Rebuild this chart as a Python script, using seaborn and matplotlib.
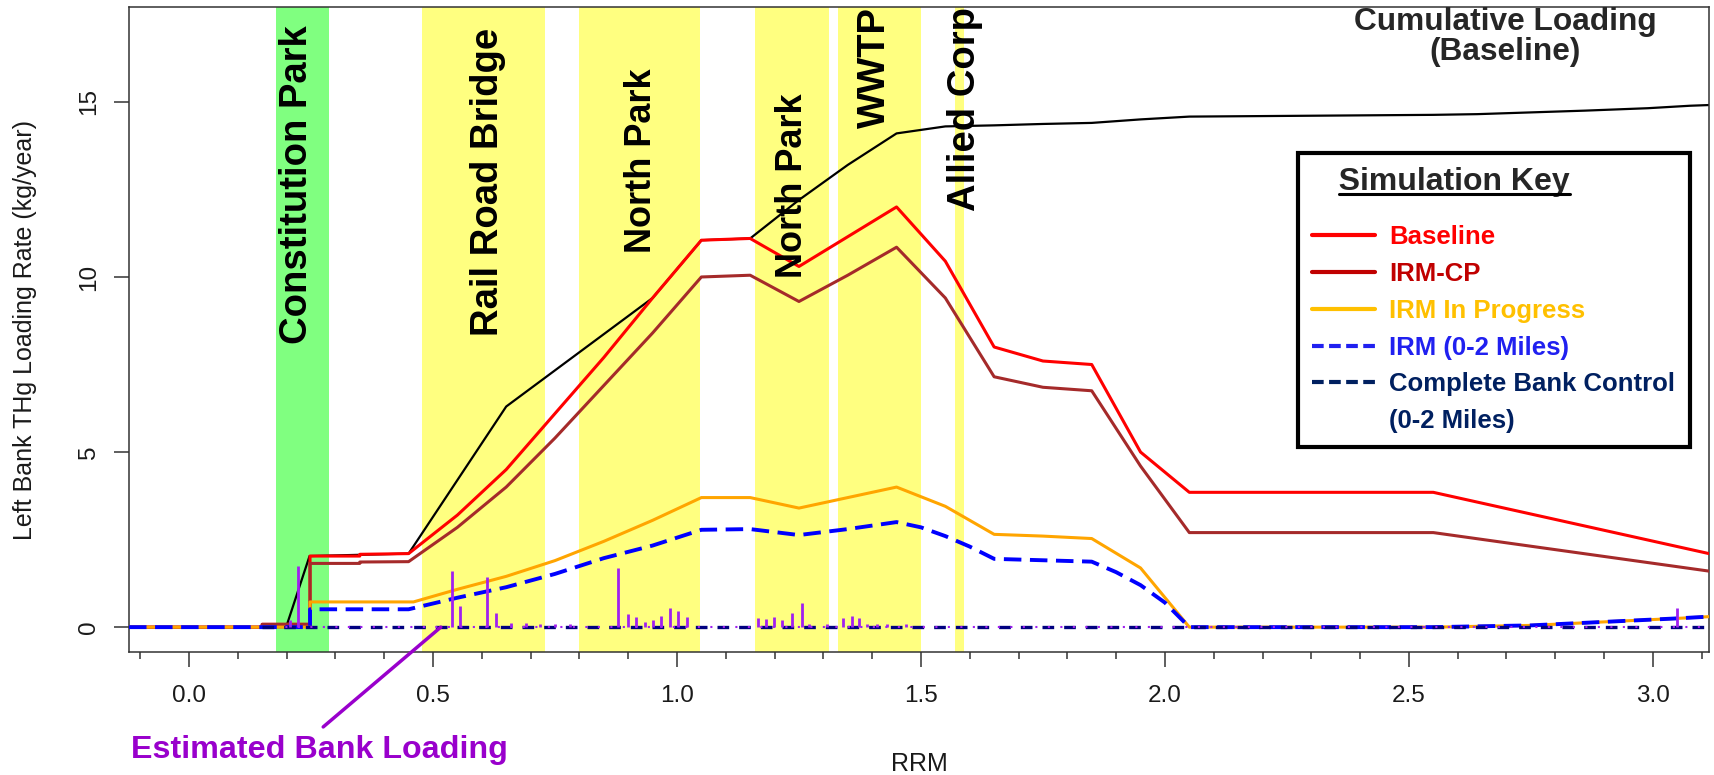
import matplotlib
matplotlib.use("Agg")
import matplotlib.pyplot as plt
from matplotlib.lines import Line2D
import seaborn as sns

# ---------------- data ----------------
cum_rrm = [-0.123, 0.199, 0.247, 0.45, 0.65, 0.95, 1.05, 1.15, 1.25, 1.35, 1.45, 1.55, 1.65,
           1.75, 1.85, 1.95, 2.05, 2.55, 2.64, 2.75, 2.86, 2.99, 3.076, 3.115]
cum_load = [0, 0, 2.03, 2.1, 6.3, 9.4, 11.05, 11.1, 12.2, 13.2, 14.1, 14.3, 14.33,
            14.37, 14.4, 14.5, 14.58, 14.63, 14.65, 14.7, 14.75, 14.82, 14.89, 14.91]

rrm_a = [-0.123, 0.15, 0.15, 0.248, 0.248, 0.35, 0.35, 0.45, 0.55, 0.65, 0.75, 0.85, 0.95,
         1.05, 1.15, 1.25, 1.35, 1.45, 1.55, 1.65, 1.75, 1.85, 1.95, 2.05, 2.55, 3.115]
baseline = [0, 0, 0.08, 0.08, 2.03, 2.03, 2.08, 2.1, 3.2, 4.5, 6.1, 7.7, 9.4,
            11.05, 11.1, 10.3, 11.15, 12.0, 10.45, 8.0, 7.6, 7.5, 5.0, 3.85, 3.85, 2.1]
irm_cp = [0, 0, 0.08, 0.08, 1.82, 1.82, 1.86, 1.87, 2.85, 4.0, 5.4, 6.9, 8.4,
          10.0, 10.05, 9.3, 10.05, 10.85, 9.4, 7.15, 6.85, 6.75, 4.6, 2.7, 2.7, 1.6]

rrm_b = [-0.123, 0.248, 0.248, 0.46, 0.55, 0.65, 0.75, 0.85, 0.95, 1.05, 1.15, 1.25, 1.35,
         1.45, 1.55, 1.65, 1.75, 1.85, 1.95, 2.05, 2.55, 2.75, 2.9, 3.05, 3.115]
irm_progress = [0, 0, 0.72, 0.72, 1.08, 1.45, 1.9, 2.45, 3.05, 3.7, 3.7, 3.4, 3.7,
                4.0, 3.45, 2.65, 2.6, 2.53, 1.69, 0, 0, 0.05, 0.15, 0.25, 0.3]

rrm_c = [-0.123, 0.248, 0.248, 0.45, 0.55, 0.65, 0.75, 0.85, 0.95, 1.05, 1.15, 1.25, 1.35,
         1.45, 1.5, 1.55, 1.6, 1.65, 1.75, 1.85, 1.9, 1.95, 2.0, 2.05, 2.55, 2.75, 2.9, 3.05, 3.115]
irm_02 = [0, 0, 0.51, 0.51, 0.84, 1.14, 1.52, 1.97, 2.33, 2.78, 2.8, 2.63, 2.8,
          3.0, 2.85, 2.6, 2.3, 1.95, 1.91, 1.87, 1.57, 1.2, 0.7, 0, 0, 0.05, 0.15, 0.25, 0.3]

cbc_rrm = [0.15, 3.115]
cbc_load = [0, 0]

spike_x = [0.207, 0.224, 0.538, 0.556, 0.611, 0.630, 0.66, 0.69, 0.72, 0.75, 0.78,
           0.879, 0.900, 0.917, 0.934, 0.951, 0.968, 0.985, 1.002, 1.020,
           1.166, 1.182, 1.198, 1.216, 1.235, 1.256, 1.27, 1.307, 1.340, 1.358, 1.374,
           1.39, 1.41, 1.43, 1.47, 3.05]
spike_h = [0.2, 1.74, 1.61, 0.6, 1.42, 0.41, 0.13, 0.12, 0.1, 0.1, 0.1,
           1.70, 0.37, 0.28, 0.15, 0.2, 0.32, 0.55, 0.47, 0.28,
           0.25, 0.23, 0.29, 0.2, 0.41, 0.69, 0.1, 0.1, 0.25, 0.32, 0.25,
           0.1, 0.1, 0.1, 0.1, 0.55]

band_labels = ["Constitution Park", "Rail Road Bridge", "North Park", "North Park", "WWTP", "Allied Corp"]
band_start = [0.178, 0.477, 0.800, 1.159, 1.330, 1.569]
band_end = [0.287, 0.730, 1.047, 1.311, 1.500, 1.589]
label_x = [0.222, 0.612, 0.927, 1.237, 1.405, 1.59]
label_top = [17.2, 17.1, 15.95, 15.25, 17.7, 17.7]
label_size = [27.5, 27.5, 26, 26, 27.5, 27.5]

legend_labels = ["Baseline", "IRM-CP", "IRM In Progress", "IRM (0-2 Miles)",
                 "Complete Bank Control", "(0-2 Miles)"]
xticks_major = [0.0, 0.5, 1.0, 1.5, 2.0, 2.5, 3.0]
yticks_major = [0, 5, 10, 15]

# ---------------- style ----------------
sns.set_style("ticks")
plt.rcParams['font.family'] = ['Liberation Sans', 'DejaVu Sans']

W, H = 1714, 775
fig = plt.figure(figsize=(W / 100, H / 100), dpi=100)
ax = fig.add_axes([129 / W, 1 - 652 / H, (1709 - 129) / W, (652 - 7) / H])

# bands
for i, (s, e) in enumerate(zip(band_start, band_end)):
    ax.axvspan(s, e, color='#80FF80' if i == 0 else '#FFFF80', lw=0, zorder=0)


def line(x, y, **kw):
    sns.lineplot(x=x, y=y, estimator=None, sort=False, ax=ax, **kw)


line(cum_rrm, cum_load, color='black', lw=1.6, zorder=2)
line(rrm_a, baseline, color='#FF0000', lw=2.2, zorder=3)
line(rrm_a, irm_cp, color='#A52A2A', lw=2.2, zorder=3)
line(rrm_b, irm_progress, color='#FFA500', lw=2.2, zorder=3)
line(rrm_c, irm_02, color='#0000FF', lw=2.8, linestyle=(0, (4.5, 2.2)), zorder=4)
line(cbc_rrm, cbc_load, color='#000080', lw=2.4, linestyle=(0, (3.5, 3)), zorder=4)
ax.vlines(spike_x, 0, spike_h, color='#A020F0', lw=2.0, zorder=5)
line([0.18, 3.115], [0, 0], color='#A020F0', lw=1.5, linestyle=(2, (1, 5)), zorder=5)

# band labels
for lab, x, top, fs in zip(band_labels, label_x, label_top, label_size):
    ax.text(x, top, lab, rotation=90, ha='center', va='top', fontsize=fs,
            fontweight='bold', color='black', zorder=6)

ax.text(2.697, 16.84, "Cumulative Loading\n(Baseline)", ha='center', va='center',
        fontsize=22.8, fontweight='bold', linespacing=1.0, zorder=6)

# estimated bank loading annotation
ax.annotate('', xy=(0.516, 0.0), xytext=(0.275, -2.85),
            arrowprops=dict(arrowstyle='-', color='#9900CC', lw=2.5, shrinkA=0, shrinkB=0),
            annotation_clip=False, zorder=6)
ax.text(0.268, -3.5, "Estimated Bank Loading", ha='center', va='center', fontsize=23.2,
        fontweight='bold', color='#9900CC', clip_on=False)

# axes
ax.set_xlim(-0.123, 3.115)
ax.set_ylim(-0.71, 17.71)
ax.set_xticks(xticks_major)
ax.set_xticklabels([f"{v:.1f}" for v in xticks_major])
ax.set_xticks([i / 10 for i in range(-1, 32)], minor=True)
ax.set_yticks(yticks_major)
ax.set_yticklabels([str(v) for v in yticks_major])
ax.tick_params(axis='both', which='major', direction='out', length=10.8, width=1.1,
               labelsize=17.5, color='#333333', labelcolor='#1a1a1a')
ax.tick_params(axis='x', which='major', pad=13)
ax.tick_params(axis='x', which='minor', direction='out', length=5, width=1.1, color='#333333')
ax.tick_params(axis='y', which='major', pad=10)
for t in ax.get_yticklabels():
    t.set_rotation(90)
    t.set_va('center')
for sp in ax.spines.values():
    sp.set_linewidth(1.1)
    sp.set_color('#333333')

ax.set_xlabel("RRM", fontsize=18, color='#1a1a1a')
ax.set_ylabel("Left Bank THg Loading Rate (kg/year)", fontsize=18, color='#1a1a1a')
ax.xaxis.set_label_coords(0.5, -0.155)
ax.yaxis.set_label_coords(-0.058, 0.5)

# legend
legend_colors = ['#FF0000', '#C00000', '#FFC000', '#2020F0', '#002060', '#002060']
handles = [Line2D([], [], color='#FF0000', lw=3),
           Line2D([], [], color='#C00000', lw=3),
           Line2D([], [], color='#FFC000', lw=3),
           Line2D([], [], color='#2020F0', lw=3, linestyle=(0, (2.8, 1.3))),
           Line2D([], [], color='#002060', lw=3, linestyle=(0, (2.8, 1.3))),
           Line2D([], [], color='none', lw=0)]
leg_size = 18.5
leg_spacing = 0.5
leg = ax.legend(handles, legend_labels, title="   Simulation Key", loc='upper left',
                bbox_to_anchor=(0.740, 0.774), frameon=True, fancybox=False,
                edgecolor='black', framealpha=1,
                prop={'weight': 'bold', 'size': leg_size},
                title_fontproperties={'weight': 'bold', 'size': 23},
                handlelength=2.45, handletextpad=0.55, labelspacing=leg_spacing,
                borderpad=0.55, alignment='left', borderaxespad=0)
leg._legend_box.sep = leg_spacing * leg_size + 11
leg.get_frame().set_linewidth(3)
for t, c in zip(leg.get_texts(), legend_colors):
    t.set_color(c)

fig.canvas.draw()
r = fig.canvas.get_renderer()
tb = leg.get_title().get_window_extent(r)
tmp = fig.text(0, 0, "Simulation Key", fontsize=23, fontweight='bold')
w = tmp.get_window_extent(r).width
tmp.remove()
uy = tb.y0 + 3
fig.add_artist(Line2D([(tb.x1 - w) / W, tb.x1 / W], [uy / H, uy / H],
                      transform=fig.transFigure, color='black', lw=2.2))

fig.savefig('out.png', dpi=100)
